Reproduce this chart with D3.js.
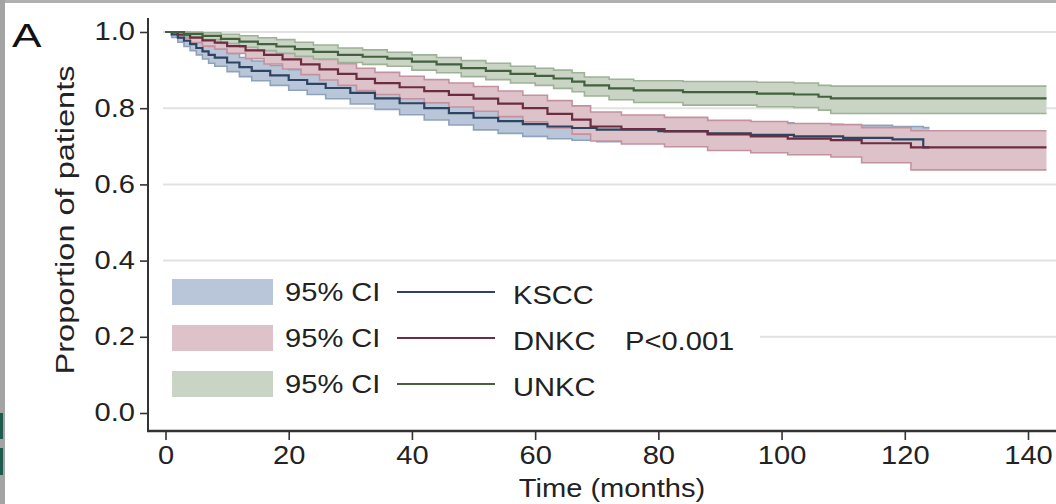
<!DOCTYPE html>
<html>
<head>
<meta charset="utf-8">
<script src="https://cdn.jsdelivr.net/npm/d3@7"></script>
<style>
  html, body { margin: 0; padding: 0; background: #fff; }
  svg { display: block; font-family: "Liberation Sans", Arial, sans-serif; }
</style>
</head>
<body>
<svg id="chart" width="1056" height="504"></svg>
<script>
// Kaplan-Meier estimates (time in months)
const ksccTime = [0, 1, 2, 3, 4, 5, 6, 7, 8, 10, 12, 14, 17, 20, 23, 26, 30, 34, 38, 42, 46, 50, 54, 58, 62, 66, 70, 80, 88, 95, 102, 110, 118, 123, 124];
const ksccEst  = [1.0, 0.994, 0.985, 0.977, 0.968, 0.958, 0.949, 0.94, 0.933, 0.92, 0.908, 0.898, 0.886, 0.874, 0.864, 0.853, 0.84, 0.826, 0.813, 0.8, 0.787, 0.775, 0.766, 0.758, 0.752, 0.748, 0.744, 0.74, 0.734, 0.73, 0.726, 0.722, 0.718, 0.697, 0.697];
const ksccHi   = [1.0, 1.0, 0.997, 0.992, 0.985, 0.978, 0.97, 0.962, 0.956, 0.944, 0.933, 0.924, 0.912, 0.901, 0.891, 0.881, 0.868, 0.855, 0.843, 0.831, 0.818, 0.807, 0.798, 0.79, 0.784, 0.78, 0.776, 0.772, 0.766, 0.762, 0.758, 0.755, 0.752, 0.749, 0.749];
const ksccLo   = [1.0, 0.986, 0.973, 0.962, 0.951, 0.94, 0.929, 0.918, 0.91, 0.896, 0.883, 0.872, 0.86, 0.847, 0.836, 0.825, 0.811, 0.797, 0.783, 0.769, 0.756, 0.743, 0.734, 0.726, 0.72, 0.716, 0.712, 0.708, 0.702, 0.698, 0.694, 0.69, 0.685, 0.645, 0.645];

const dnkcTime = [0, 2, 4, 6, 8, 10, 13, 16, 19, 22, 25, 28, 31, 34, 38, 42, 46, 50, 54, 58, 62, 66, 69, 74, 81, 88, 95, 101, 108, 113, 121, 143];
const dnkcEst  = [1.0, 0.993, 0.985, 0.978, 0.972, 0.963, 0.952, 0.94, 0.928, 0.915, 0.902, 0.89, 0.877, 0.866, 0.855, 0.845, 0.835, 0.825, 0.812, 0.8, 0.785, 0.77, 0.752, 0.745, 0.739, 0.731, 0.726, 0.72, 0.716, 0.708, 0.697, 0.697];
const dnkcHi   = [1.0, 1.0, 0.996, 0.992, 0.988, 0.981, 0.972, 0.962, 0.951, 0.94, 0.928, 0.917, 0.905, 0.894, 0.884, 0.875, 0.866, 0.857, 0.845, 0.834, 0.82, 0.806, 0.79, 0.782, 0.776, 0.768, 0.765, 0.76, 0.757, 0.749, 0.741, 0.741];
const dnkcLo   = [1.0, 0.984, 0.972, 0.963, 0.955, 0.944, 0.93, 0.916, 0.903, 0.888, 0.874, 0.86, 0.846, 0.836, 0.825, 0.814, 0.803, 0.792, 0.778, 0.764, 0.748, 0.732, 0.714, 0.706, 0.699, 0.689, 0.683, 0.678, 0.672, 0.657, 0.638, 0.638];

const unkcTime = [0, 3, 6, 9, 12, 15, 18, 21, 24, 28, 32, 36, 40, 44, 48, 52, 56, 60, 63, 66, 68, 72, 76, 84, 96, 102, 106, 108, 143];
const unkcEst  = [1.0, 0.995, 0.99, 0.982, 0.975, 0.968, 0.962, 0.955, 0.948, 0.94, 0.935, 0.93, 0.922, 0.915, 0.905, 0.898, 0.89, 0.885, 0.878, 0.87, 0.86, 0.852, 0.847, 0.842, 0.838, 0.836, 0.83, 0.826, 0.826];
const unkcHi   = [1.0, 1.0, 0.998, 0.994, 0.99, 0.985, 0.98, 0.973, 0.966, 0.958, 0.953, 0.947, 0.94, 0.933, 0.925, 0.918, 0.91, 0.905, 0.9, 0.893, 0.882, 0.876, 0.872, 0.87, 0.868, 0.866, 0.86, 0.858, 0.858];
const unkcLo   = [1.0, 0.988, 0.98, 0.97, 0.96, 0.951, 0.944, 0.936, 0.929, 0.92, 0.915, 0.91, 0.9, 0.893, 0.883, 0.875, 0.866, 0.86, 0.852, 0.843, 0.832, 0.822, 0.815, 0.808, 0.804, 0.802, 0.795, 0.786, 0.786];

const groupNames = ['KSCC', 'DNKC', 'UNKC'];
const ciLabel = '95% CI';
const pValueText = 'P<0.001';
const xTicks = [0, 20, 40, 60, 80, 100, 120, 140];
const yTicks = [0, 0.2, 0.4, 0.6, 0.8, 1.0];
const gridTicks = [0.2, 0.4, 0.6, 0.8, 1.0];

const styles = {
  KSCC: { fill: '#b9c6d9', edge: '#8ea3bb', line: '#2e4460' },
  DNKC: { fill: '#dec2c9', edge: '#c4929f', line: '#6c2d40' },
  UNKC: { fill: '#c9d4c4', edge: '#9db296', line: '#43603f' }
};

function toRows(t, est, lo, hi) {
  return t.map((d, i) => ({ t: d, est: est[i], lo: lo[i], hi: hi[i] }));
}

const series = [
  { name: 'KSCC', rows: toRows(ksccTime, ksccEst, ksccLo, ksccHi) },
  { name: 'DNKC', rows: toRows(dnkcTime, dnkcEst, dnkcLo, dnkcHi) },
  { name: 'UNKC', rows: toRows(unkcTime, unkcEst, unkcLo, unkcHi) }
];

const svg = d3.select('#chart');
const textScale = 1.12;

// photo frame edges
svg.append('rect').attr('x', 0).attr('y', 0).attr('width', 1056).attr('height', 3).attr('fill', '#b0b0b0');
svg.append('rect').attr('x', 0).attr('y', 0).attr('width', 5).attr('height', 504).attr('fill', '#a4a4a4');
svg.append('rect').attr('x', 0).attr('y', 413).attr('width', 3).attr('height', 26).attr('fill', '#1f5a4e');
svg.append('rect').attr('x', 0).attr('y', 448).attr('width', 3).attr('height', 27).attr('fill', '#1f5a4e');

const x = d3.scaleLinear().domain([0, 140]).range([165.5, 1028]);
const y = d3.scaleLinear().domain([0, 1]).range([413, 32]);

const axisX = 148, axisY = 431;

// gridlines
svg.append('g').selectAll('line').data(gridTicks).join('line')
  .attr('x1', 163).attr('x2', 1056)
  .attr('y1', d => y(d)).attr('y2', d => y(d))
  .attr('stroke', '#e2e2e2').attr('stroke-width', 2);

// confidence bands
const area = d3.area().curve(d3.curveStepAfter)
  .x(d => x(d.t)).y0(d => y(d.lo)).y1(d => y(d.hi));
const loLine = d3.line().curve(d3.curveStepAfter).x(d => x(d.t)).y(d => y(d.lo));
const hiLine = d3.line().curve(d3.curveStepAfter).x(d => x(d.t)).y(d => y(d.hi));
const estLine = d3.line().curve(d3.curveStepAfter).x(d => x(d.t)).y(d => y(d.est));

const bands = svg.append('g');
series.forEach(s => {
  const st = styles[s.name];
  bands.append('path').datum(s.rows).attr('d', area).attr('fill', st.fill);
  bands.append('path').datum(s.rows).attr('d', loLine).attr('fill', 'none').attr('stroke', st.edge).attr('stroke-width', 1.6);
  bands.append('path').datum(s.rows).attr('d', hiLine).attr('fill', 'none').attr('stroke', st.edge).attr('stroke-width', 1.6);
});

const lines = svg.append('g');
series.forEach(s => {
  lines.append('path').datum(s.rows).attr('d', estLine)
    .attr('fill', 'none').attr('stroke', styles[s.name].line).attr('stroke-width', 2.2);
});

// legend
const legend = svg.append('g');
legend.append('rect').attr('x', 160).attr('y', 268).attr('width', 600).attr('height', 140).attr('fill', '#fff');
const rowY = i => 292 + i * 46;
groupNames.forEach((name, i) => {
  const st = styles[name];
  legend.append('rect').attr('x', 172).attr('y', rowY(i) - 13).attr('width', 101).attr('height', 26).attr('fill', st.fill);
  legend.append('text').attr('transform', `translate(285,${rowY(i) + 9}) scale(${textScale},1)`)
    .attr('font-size', 26).attr('fill', '#222').text(ciLabel);
  legend.append('line').attr('x1', 397).attr('x2', 495).attr('y1', rowY(i)).attr('y2', rowY(i))
    .attr('stroke', st.line).attr('stroke-width', 2);
  legend.append('text').attr('transform', `translate(513,${rowY(i) + 12}) scale(${textScale},1)`)
    .attr('font-size', 26).attr('fill', '#222').text(name);
});
legend.append('text').attr('transform', `translate(625,${rowY(1) + 12}) scale(${textScale},1)`)
  .attr('font-size', 26).attr('fill', '#222').text(pValueText);

// axes
const yAxis = svg.append('g').attr('transform', `translate(${axisX},0)`)
  .call(d3.axisLeft(y).tickValues(yTicks).tickFormat(d3.format('.1f')).tickSize(8).tickSizeOuter(0));
yAxis.select('.domain').remove();
yAxis.selectAll('.tick line').attr('stroke', '#333').attr('stroke-width', 1.6);
yAxis.selectAll('.tick text')
  .attr('x', null).attr('dy', '0.3em')
  .attr('transform', `translate(-13,0) scale(${textScale},1)`)
  .attr('font-size', 26).attr('fill', '#222').attr('font-family', '"Liberation Sans", Arial, sans-serif');

const xAxis = svg.append('g').attr('transform', `translate(0,${axisY})`)
  .call(d3.axisBottom(x).tickValues(xTicks).tickSize(9).tickSizeOuter(0));
xAxis.select('.domain').remove();
xAxis.selectAll('.tick line').attr('stroke', '#333').attr('stroke-width', 1.6);
xAxis.selectAll('.tick text')
  .attr('y', 33).attr('dy', null)
  .attr('transform', `scale(${textScale},1)`)
  .attr('font-size', 26).attr('fill', '#222').attr('font-family', '"Liberation Sans", Arial, sans-serif');

svg.append('line').attr('x1', axisX).attr('x2', axisX).attr('y1', 18).attr('y2', axisY + 1)
  .attr('stroke', '#333').attr('stroke-width', 2);
svg.append('line').attr('x1', axisX - 1).attr('x2', 1056).attr('y1', axisY).attr('y2', axisY)
  .attr('stroke', '#333').attr('stroke-width', 2.4);

// titles
svg.append('text').attr('transform', `translate(612,497) scale(1.12,1)`)
  .attr('text-anchor', 'middle').attr('font-size', 26).attr('fill', '#222').text('Time (months)');
svg.append('text').attr('transform', `translate(74,220) rotate(-90) scale(1.25,1)`)
  .attr('text-anchor', 'middle').attr('font-size', 26).attr('fill', '#222').text('Proportion of patients');
svg.append('text').attr('transform', `translate(12,47) scale(1.3,1)`)
  .attr('font-size', 34).attr('fill', '#111').text('A');
</script>
</body>
</html>
